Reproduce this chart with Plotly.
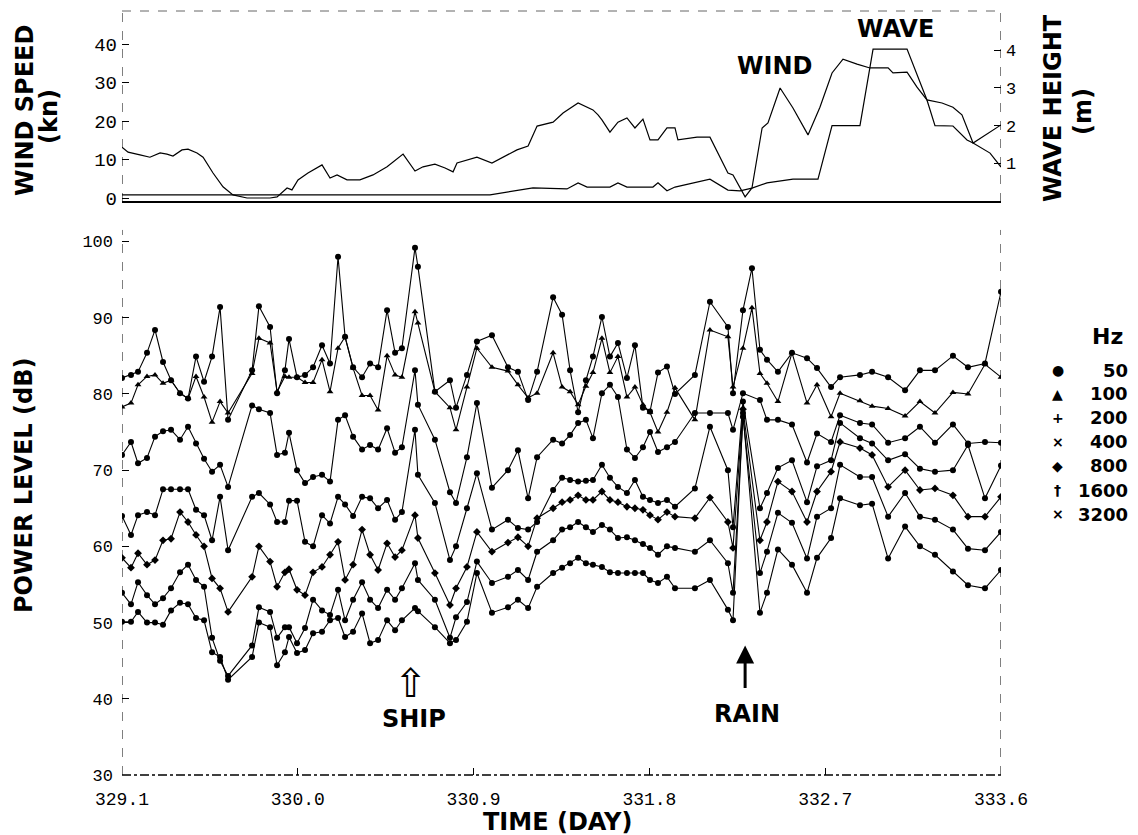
import plotly.graph_objects as go

# ---------------- data ----------------
days = [
    329.100, 329.146, 329.182, 329.228, 329.269, 329.310, 329.351, 329.397, 329.438, 329.479, 329.520, 329.561, 329.602, 329.643,
    329.766, 329.801, 329.858, 329.894, 329.934, 329.955, 329.996, 330.037, 330.078, 330.124, 330.165, 330.206, 330.242, 330.283, 330.329, 330.370, 330.411, 330.457, 330.498,
    330.533, 330.600, 330.615, 330.702, 330.779, 330.810, 330.866, 330.917, 330.994, 331.076, 331.127, 331.179, 331.225, 331.307, 331.353, 331.394, 331.435, 331.475, 331.511, 331.557,
    331.598, 331.639, 331.685, 331.726, 331.767, 331.803, 331.844, 331.890, 331.931, 332.033, 332.110, 332.202, 332.228, 332.279, 332.325, 332.366, 332.402, 332.458,
    332.530, 332.607, 332.658, 332.730, 332.776, 332.878, 332.940, 333.022, 333.109, 333.185, 333.262, 333.354, 333.431, 333.518, 333.600,
]

s50 = [
    82.1, 82.5, 82.9, 85.4, 88.4, 84.2, 81.8, 80.1, 79.4, 84.9, 81.6, 84.9, 91.4, 76.6,
    83.1, 91.5, 88.8, 80.1, 83.1, 87.2, 82.2, 82.5, 83.5, 86.4, 84.0, 98.0, 87.5, 83.5, 82.2, 84.0, 83.5, 91.0, 85.4,
    86.0, 99.2, 96.7, 80.3, 81.8, 78.2, 82.5, 86.9, 87.7, 83.5, 82.9, 79.2, 82.9, 92.7, 90.4, 83.1, 77.6, 81.8, 84.9, 90.1,
    84.9, 86.7, 82.1, 86.4, 78.2, 77.7, 82.8, 83.6, 80.0, 82.5, 92.1, 88.8, 80.1, 91.0, 96.5, 85.8, 84.5, 82.9,
    85.4, 84.7, 83.4, 80.9, 82.2, 82.5, 82.9, 82.2, 80.5, 83.1, 83.1, 85.0, 83.5, 84.0, 93.4,
]
s100 = [
    78.3, 78.8, 81.2, 82.3, 82.5, 81.4, 81.8, 80.1, 79.4, 82.3, 79.6, 76.3, 79.0, 77.5,
    82.7, 87.3, 86.7, 80.3, 82.3, 82.2, 82.2, 81.5, 81.5, 84.5, 80.3, 86.0, 87.5, 83.4, 79.8, 79.8, 77.9, 85.0, 82.5,
    82.2, 90.8, 89.3, 80.3, 78.2, 75.3, 80.9, 86.0, 83.5, 83.0, 81.2, 79.5, 80.1, 85.4, 80.9, 80.3, 78.6, 81.0, 82.8, 87.3,
    82.8, 84.9, 79.6, 80.9, 78.6, 77.6, 75.0, 77.6, 80.8, 76.6, 88.4, 87.5, 80.9, 86.0, 91.3, 82.7, 81.4, 79.0,
    85.4, 78.8, 81.2, 77.0, 80.1, 79.1, 78.4, 78.1, 77.1, 79.0, 77.5, 80.2, 80.0, 83.9, 82.2,
]
s200 = [
    72.0, 73.7, 70.9, 71.6, 74.4, 75.1, 75.3, 74.0, 75.7, 73.5, 71.5, 69.8, 70.7, 67.8,
    78.5, 78.0, 77.5, 72.0, 72.3, 74.9, 70.0, 68.3, 69.1, 69.4, 68.5, 76.6, 77.2, 74.4, 72.7, 73.3, 72.7, 75.5, 72.3,
    73.0, 83.1, 78.6, 74.0, 67.1, 65.7, 71.7, 78.8, 67.7, 70.0, 72.6, 66.3, 71.7, 74.0, 73.5, 74.6, 76.2, 76.6, 74.2, 80.1,
    81.2, 79.6, 72.7, 71.6, 73.0, 75.0, 72.4, 73.0, 73.7, 77.5, 77.5, 77.5, 75.3, 80.1, None, 79.2, 76.6, 76.6,
    76.0, 71.0, 74.8, 73.7, 77.2, 76.2, 76.0, 73.6, 74.2, 75.7, 73.6, 76.0, 73.5, 73.7, 73.6,
]
s400 = [
    64.0, 61.5, 64.1, 64.5, 64.1, 67.5, 67.5, 67.5, 67.5, 64.8, 64.1, 60.8, 66.5, 59.5,
    66.5, 67.0, 65.5, 63.2, 63.2, 66.0, 66.0, 60.6, 60.0, 64.1, 63.0, 66.5, 65.5, 64.0, 66.5, 66.3, 65.0, 66.1, 63.5,
    64.5, 75.3, 69.4, 65.7, 58.2, 60.0, 65.0, 69.6, 62.2, 63.5, 62.4, 62.2, 63.2, 67.4, 69.0, 68.7, 68.5, 68.6, 68.7, 70.7,
    69.0, 67.8, 67.0, 68.7, 66.5, 66.1, 65.7, 66.1, 65.2, 67.6, 75.7, 70.0, 62.5, 79.0, None, 65.0, 67.0, 70.3,
    71.3, 65.8, 70.5, 71.3, 76.2, 74.2, 73.5, 71.3, 72.1, 70.2, 69.8, 70.0, 73.3, 66.3, 70.6,
]
s800 = [
    58.5, 57.2, 59.1, 57.6, 58.2, 60.8, 61.0, 64.5, 63.2, 61.5, 60.0, 55.8, 54.5, 51.4,
    56.0, 60.0, 58.0, 54.7, 56.6, 57.0, 54.3, 53.6, 56.6, 57.3, 58.9, 60.6, 55.6, 57.6, 62.2, 58.9, 56.9, 60.4, 58.6,
    59.5, 64.1, 61.1, 56.5, 52.3, 54.5, 57.3, 61.9, 59.3, 60.5, 61.2, 60.0, 63.7, 65.0, 65.8, 66.1, 66.7, 66.1, 66.1, 67.2,
    66.1, 65.8, 65.2, 65.0, 64.8, 64.1, 63.5, 64.5, 63.9, 63.7, 66.4, 63.2, 59.8, 78.0, None, 60.8, 63.2, 68.5,
    67.2, 63.2, 67.2, 69.8, 73.7, 72.9, 72.0, 67.8, 70.0, 67.4, 67.6, 66.7, 63.9, 63.9, 66.5,
]
s1600 = [
    53.9, 52.4, 55.3, 53.6, 52.4, 53.2, 54.5, 56.6, 57.6, 55.6, 54.7, 48.0, 45.0, 43.0,
    47.0, 52.0, 51.4, 48.0, 49.4, 49.4, 47.3, 49.3, 53.0, 51.6, 51.0, 54.3, 50.3, 53.0, 55.3, 53.0, 51.9, 54.3, 53.0,
    54.5, 57.8, 55.6, 53.0, 48.0, 50.7, 52.7, 58.0, 55.2, 56.0, 56.9, 55.6, 59.3, 60.8, 62.2, 62.5, 63.2, 62.5, 61.9, 62.8,
    62.2, 61.1, 61.2, 60.8, 60.3, 59.8, 58.9, 60.0, 59.8, 59.3, 60.8, 57.8, 53.9, 77.0, None, 56.5, 59.3, 64.4,
    63.1, 58.4, 63.9, 65.0, 70.7, 69.1, 69.1, 63.9, 67.0, 63.9, 63.5, 62.2, 59.7, 59.5, 61.9,
]
s3200 = [
    50.1, 50.1, 51.4, 50.0, 50.0, 49.7, 51.6, 52.6, 52.4, 50.6, 50.3, 46.1, 45.5, 42.5,
    45.5, 50.0, 49.4, 44.4, 46.1, 48.1, 46.0, 46.4, 48.6, 48.8, 50.3, 50.6, 48.1, 48.8, 51.2, 47.3, 47.7, 50.3, 49.0,
    50.3, 51.9, 51.5, 49.4, 47.3, 47.7, 50.1, 56.5, 51.3, 52.0, 53.0, 51.9, 54.7, 56.5, 57.2, 57.8, 58.5, 57.8, 57.6, 57.3,
    56.6, 56.5, 56.5, 56.5, 56.5, 55.6, 55.2, 56.0, 54.5, 54.5, 55.6, 51.7, 50.3, 77.5, None, 51.3, 53.9, 59.6,
    57.6, 53.9, 58.5, 61.1, 66.3, 65.4, 65.6, 58.4, 62.6, 60.0, 58.9, 56.7, 54.9, 54.5, 56.9,
]

wind_day = [
    329.100, 329.131, 329.192, 329.243, 329.295, 329.330, 329.361, 329.407, 329.438, 329.484, 329.515, 329.566, 329.617, 329.668,
    329.740, 329.807, 329.858, 329.894, 329.945, 329.970, 330.001, 330.052, 330.124, 330.165, 330.201, 330.252, 330.318, 330.385,
    330.457, 330.539, 330.600, 330.641, 330.702, 330.754, 330.795, 330.815, 330.866, 330.917, 330.994, 331.051, 331.122, 331.179,
    331.225, 331.307, 331.358, 331.435, 331.511, 331.537, 331.557, 331.598, 331.639, 331.685, 331.726, 331.767, 331.803, 331.844,
    331.890, 331.931, 331.946, 332.044, 332.110, 332.202, 332.228, 332.290, 332.325, 332.377, 332.407, 332.469, 332.535, 332.612,
    332.673, 332.735, 332.791, 332.863, 332.929, 333.022, 333.047, 333.119, 333.170, 333.221, 333.298, 333.354, 333.400, 333.457,
    333.600,
]
wind_kn = [
    13.2, 11.9, 11.2, 10.6, 11.7, 11.4, 10.9, 12.5, 12.7, 11.7, 10.6, 6.5, 2.9, 0.8,
    0.0, 0.0, 0.0, 0.3, 2.6, 2.1, 4.7, 6.5, 8.6, 5.2, 6.0, 4.7, 4.7, 6.0,
    8.1, 11.4, 7.0, 8.1, 8.8, 7.8, 6.8, 9.1, 9.9, 10.6, 9.1, 10.6, 12.5, 13.5,
    18.7, 19.7, 22.1, 24.7, 22.9, 21.6, 20.3, 17.1, 19.7, 20.8, 18.2, 20.5, 15.1, 15.1,
    18.2, 18.2, 15.1, 15.8, 15.8, 6.5, 6.0, 0.3, 2.6, 18.2, 19.5, 28.6, 23.4, 16.4,
    23.6, 32.5, 36.1, 34.8, 33.8, 33.8, 32.5, 32.7, 28.8, 25.5, 24.7, 23.6, 21.6, 14.3,
    19.0,
]
wave_day = [
    329.100, 330.011, 330.984, 331.204, 331.378, 331.435, 331.481, 331.598, 331.639, 331.685, 331.818, 331.844,
    331.890, 331.931, 332.110, 332.202, 332.264, 332.325, 332.402, 332.535, 332.663, 332.735, 332.878, 332.945,
    333.119, 333.221, 333.262, 333.354, 333.426, 333.457, 333.544, 333.600,
]
wave_m = [
    0.16, 0.16, 0.16, 0.35, 0.32, 0.48, 0.37, 0.37, 0.48, 0.37, 0.37, 0.48,
    0.27, 0.37, 0.58, 0.29, 0.27, 0.34, 0.48, 0.58, 0.58, 2.0, 2.0, 4.03,
    4.03, 2.68, 2.0, 1.99, 1.62, 1.54, 1.27, 0.9,
]

freqs = ["50", "100", "200", "400", "800", "1600", "3200"]
legend_glyphs = ["\u25CF", "\u25B2", "+", "\u00D7", "\u25C6", "\u2020", "\u00D7"]
marker_symbols = ["circle", "triangle-up", "circle", "circle", "diamond", "circle", "circle"]

x_ticks = [329.1, 330.0, 330.9, 331.8, 332.7, 333.6]
x_ticktext = ["329.1", "330.0", "330.9", "331.8", "332.7", "333.6"]
db_ticks = [30, 40, 50, 60, 70, 80, 90, 100]
wind_ticks = [0, 10, 20, 30, 40]
wave_ticks = [1, 2, 3, 4]

series = [s50, s100, s200, s400, s800, s1600, s3200]
for s in series:
    assert len(s) == len(days)
assert len(wind_day) == len(wind_kn)
assert len(wave_day) == len(wave_m)

# ---------------- figure ----------------
X0, X1 = 329.1, 333.6
fig = go.Figure()

for f, s, sym in zip(freqs, series, marker_symbols):
    fig.add_trace(go.Scatter(
        x=days, y=s, mode="lines+markers", name=f + " Hz",
        line=dict(color="black", width=1.1),
        marker=dict(symbol=sym, size=6, color="black"),
        connectgaps=True, showlegend=False, xaxis="x", yaxis="y",
    ))

fig.add_trace(go.Scatter(x=wind_day, y=wind_kn, mode="lines", name="WIND",
                         line=dict(color="black", width=1.2),
                         showlegend=False, xaxis="x2", yaxis="y2"))
fig.add_trace(go.Scatter(x=wave_day, y=wave_m, mode="lines", name="WAVE",
                         line=dict(color="black", width=1.2),
                         showlegend=False, xaxis="x2", yaxis="y3"))

mono = dict(family="Liberation Mono, DejaVu Sans Mono, monospace", size=18, color="black")
boldf = dict(family="DejaVu Sans, Arial, sans-serif", size=24, color="black", weight="bold")

fig.update_layout(
    width=1138, height=835,
    margin=dict(l=122, r=137, t=11, b=60),
    paper_bgcolor="white", plot_bgcolor="white",
    showlegend=False,
    xaxis=dict(domain=[0, 1], range=[X0, X1], anchor="y",
               tickvals=x_ticks, ticktext=x_ticktext, ticks="inside", ticklen=7,
               tickcolor="black", tickwidth=1, showgrid=False, zeroline=False,
               showline=False, tickfont=mono, ticklabelstandoff=11),
    yaxis=dict(domain=[0, 0.7134], range=[30, 101.52], anchor="x",
               tickvals=db_ticks, ticks="inside", ticklen=7, tickcolor="black",
               showgrid=False, zeroline=False, showline=False,
               tickfont=dict(mono, size=17), ticklabelstandoff=8),
    xaxis2=dict(domain=[0, 1], range=[X0, X1], anchor="y2", showticklabels=False,
                ticks="", showgrid=False, zeroline=False, showline=False),
    yaxis2=dict(domain=[0.75, 1.0], range=[-1.04, 48.6], anchor="x2",
                tickvals=wind_ticks, ticks="inside", ticklen=7, tickcolor="black",
                showgrid=False, zeroline=False, showline=False,
                tickfont=dict(mono, size=19), ticklabelstandoff=4),
    yaxis3=dict(overlaying="y2", side="right", anchor="x2", range=[-0.027, 5.04],
                tickvals=wave_ticks, ticks="inside", ticklen=7, tickcolor="black",
                showgrid=False, zeroline=False, showline=False,
                tickfont=dict(mono, size=17), ticklabelstandoff=4),
)

# axis frame lines (scan-like dashed)
shapes = [
    dict(type="line", xref="x", yref="y domain", x0=X0, x1=X0, y0=0, y1=1,
         line=dict(color="black", width=1, dash="dash")),
    dict(type="line", xref="x", yref="y domain", x0=X1, x1=X1, y0=0, y1=1,
         line=dict(color="black", width=1, dash="dash")),
    dict(type="line", xref="x", yref="y domain", x0=X0, x1=X1, y0=0, y1=0,
         line=dict(color="black", width=1.5, dash="dashdot")),
    dict(type="line", xref="x2", yref="y2 domain", x0=X0, x1=X0, y0=0, y1=1,
         line=dict(color="black", width=1, dash="dash")),
    dict(type="line", xref="x2", yref="y2 domain", x0=X1, x1=X1, y0=0, y1=1,
         line=dict(color="black", width=1, dash="dash")),
    dict(type="line", xref="x2", yref="y2 domain", x0=X0, x1=X1, y0=0, y1=0,
         line=dict(color="black", width=2)),
    dict(type="line", xref="x2", yref="y2 domain", x0=X0, x1=X1, y0=1, y1=1,
         line=dict(color="#666666", width=1, dash="dash")),
]
fig.update_layout(shapes=shapes)

ann = []
def txt(text, x, y, font, angle=0, xanchor="center", yanchor="middle", xref="paper", yref="paper"):
    ann.append(dict(text=text, x=x, y=y, xref=xref, yref=yref, showarrow=False,
                    font=font, textangle=angle, xanchor=xanchor, yanchor=yanchor))

txt("WIND SPEED", -0.1104, 0.8704, boldf, angle=-90)
txt("(kn)", -0.0830, 0.8613, boldf, angle=-90)
txt("POWER LEVEL (dB)", -0.1115, 0.3796, boldf, angle=-90)
txt("WAVE HEIGHT", 1.0592, 0.8730, boldf, angle=-90)
txt("(m)", 1.0933, 0.8678, boldf, angle=-90)
txt("TIME (DAY)", 0.4949, -0.0620, boldf)
txt("WIND", 0.7418, 0.9280, boldf)
txt("WAVE", 0.8805, 0.9764, boldf)
txt("SHIP", 0.3322, 0.0733, boldf)
txt("RAIN", 0.7110, 0.0798, boldf)
txt("\u21E7", 0.3288, 0.1204, dict(family="DejaVu Sans", size=40, color="black"))

# legend (Hz)
txt("Hz", 1.1206, 0.5733, dict(boldf, size=22))
leg_y = [0.5301, 0.4987, 0.4673, 0.4359, 0.4045, 0.3730, 0.3416]
for f, g, yy in zip(freqs, legend_glyphs, leg_y):
    txt("<b>" + g + "</b>", 1.0648, yy, dict(family="DejaVu Sans", size=14, color="#000000"))
    txt(f, 1.1468, yy, dict(boldf, size=18), xanchor="right")

# rain arrow
ann.append(dict(x=332.29, y=47.0, xref="x", yref="y", ax=0, ay=44, axref="pixel", ayref="pixel",
                text="", showarrow=True, arrowhead=2, arrowsize=1.2, arrowwidth=3,
                arrowcolor="black"))

fig.update_layout(annotations=ann)
fig.write_html("out.html")
